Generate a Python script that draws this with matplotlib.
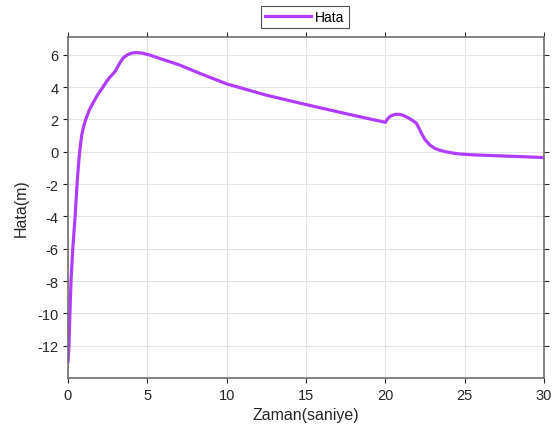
import matplotlib
matplotlib.use("Agg")
import matplotlib.pyplot as plt

LINE = "#B03CFF"
AXIS = "#6E6E6E"
GRID = "#E3E3E3"

zaman = [0, 0.06, 0.12, 0.19, 0.3, 0.45, 0.57, 0.69, 0.77, 0.86, 0.98,
         1.13, 1.35, 1.6, 1.85, 2.12, 2.33, 2.54, 2.75, 2.96, 3.1, 3.3,
         3.5, 3.75, 4.0, 4.3, 4.7, 5.2, 6.0, 7.0, 8.3, 10.0, 12.5, 15.0,
         17.5, 20.0, 20.15, 20.35, 20.6, 20.85, 21.1, 21.4, 21.7, 21.97,
         22.15, 22.3, 22.5, 22.8, 23.1, 23.4, 23.8, 24.3, 24.7, 25.5,
         26.8, 28.5, 30.0]
hata = [-13, -12, -10, -8, -6, -4, -2, -0.45, 0.3, 1.0, 1.55,
        2.03, 2.6, 3.06, 3.5, 3.88, 4.2, 4.5, 4.73, 4.95, 5.2, 5.55,
        5.82, 6.0, 6.1, 6.14, 6.1, 5.97, 5.7, 5.38, 4.85, 4.2, 3.5, 2.92,
        2.36, 1.82, 2.05, 2.22, 2.31, 2.32, 2.26, 2.12, 1.95, 1.75,
        1.4, 1.1, 0.75, 0.42, 0.22, 0.1, 0.0, -0.09, -0.14, -0.19,
        -0.24, -0.3, -0.36]

xticks = [0, 5, 10, 15, 20, 25, 30]
yticks = [-12, -10, -8, -6, -4, -2, 0, 2, 4, 6]

plt.rcParams.update({
    "font.family": ["Liberation Sans", "DejaVu Sans"],
    "font.size": 10,
    "axes.unicode_minus": False,
})

fig = plt.figure(figsize=(5.56, 4.35), dpi=100)
ax = fig.add_axes([68 / 556, 1 - 379 / 435, (544 - 68) / 556, (379 - 38) / 435])

ax.plot(zaman, hata, color=LINE, linewidth=2.3, label="Hata",
        solid_joinstyle="round")

ax.set_xlim(0, 30)
ax.set_ylim(-14, 7.1)
ax.set_xticks(xticks)
ax.set_yticks(yticks)

ax.grid(True, color=GRID, linewidth=0.8)
ax.set_axisbelow(True)
for spine in ax.spines.values():
    spine.set_color(AXIS)
    spine.set_linewidth(1.2)
ax.tick_params(direction="out", length=3.5, width=0.8, color="#262626",
               labelcolor="#262626", labelsize=10.5, top=True, right=True)

ax.set_xlabel("Zaman(saniye)", fontsize=11.5, color="#262626", labelpad=4)
ax.set_ylabel("Hata(m)", fontsize=11.5, color="#262626", labelpad=6)

leg = ax.legend(loc="lower center", bbox_to_anchor=(0.498, 1.025), frameon=True,
                fancybox=False, edgecolor="#262626", fontsize=10,
                handlelength=3.3, borderpad=0.3, handletextpad=0.3,
                borderaxespad=0)
leg.get_frame().set_linewidth(0.8)

fig.savefig("out.png", dpi=100, facecolor="white")
